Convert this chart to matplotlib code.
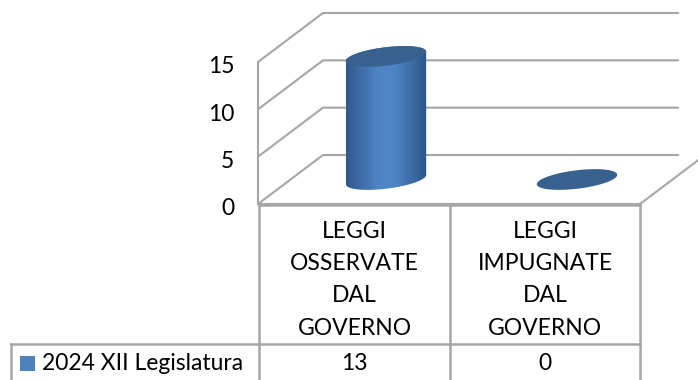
import numpy as np
import matplotlib
matplotlib.use('Agg')
import matplotlib.pyplot as plt
from matplotlib.colors import LinearSegmentedColormap
from matplotlib.path import Path
from matplotlib.patches import PathPatch, Polygon, Rectangle
from matplotlib.transforms import ScaledTranslation

categories = ['LEGGI\nOSSERVATE\nDAL\nGOVERNO', 'LEGGI\nIMPUGNATE\nDAL\nGOVERNO']
series_name = '2024 XII Legislatura'
values = [13, 0]
y_ticks = [0, 5, 10, 15]

W, H = 698, 380
GRID = '#a6a6a6'
CAP = '#38618f'
plt.rcParams['font.family'] = ['Lato', 'DejaVu Sans']
plt.rcParams['font.size'] = 16.5

fig = plt.figure(figsize=(W / 100, H / 100), dpi=100)

# plot front plane, everything in depth is sheared off from it
ax = fig.add_axes([258 / W, (H - 204) / H, 382 / W, 142 / H])
ax.set_xlim(0, len(categories))
ax.set_ylim(0, 15)
px_x = 382 / len(categories)
px_y = 142 / 15
depth_x = 65 / px_x
depth_y = 49 / px_y

for s in ax.spines.values():
    s.set_visible(False)
ax.patch.set_visible(False)
ax.set_xticks([])
ax.set_yticks(y_ticks)
ax.tick_params(axis='y', length=0, pad=17)
shift = ScaledTranslation(0, -2 / 72, fig.dpi_scale_trans)
for lab in ax.get_yticklabels():
    lab.set_transform(lab.get_transform() + shift)

grid_kw = dict(color=GRID, lw=1.5, clip_on=False, zorder=1, solid_capstyle='round')
ax.plot([0, 0], [0, 15], **grid_kw)
for t in y_ticks:
    ax.plot([0, depth_x, 2.2], [t, t + depth_y, t + depth_y], **grid_kw)
ax.plot([0, 2], [0, 0], **grid_kw)
ax.plot([2, 2 + depth_x], [0, depth_y], **grid_kw)


def ellipse(cx, cy, a=40.5, b=9.2, tilt=7, start=0, stop=360):
    t = np.radians(np.linspace(start, stop, 80))
    th = np.radians(tilt)
    ex = a * np.cos(t) * np.cos(th) - b * np.sin(t) * np.sin(th)
    ey = a * np.cos(t) * np.sin(th) + b * np.sin(t) * np.cos(th)
    return np.column_stack([cx + ex / px_x, cy + ey / px_y])


cmap = LinearSegmentedColormap.from_list('cyl', ['#2f5a8e', '#3f6ea8', '#4f85c6', '#4f85c6', '#3f6ea8', '#2c5688'])
for i, v in enumerate(values):
    cx = i + 0.5 + depth_x / 2
    cy = depth_y / 2
    if v > 0:
        low = ellipse(cx, cy, start=180, stop=360)
        high = ellipse(cx, cy + v, start=0, stop=180)
        body = np.vstack([low, high, low[:1]])
        path = Path(body)
        img = ax.imshow(np.linspace(0, 1, 200).reshape(1, -1), cmap=cmap, aspect='auto', zorder=2,
                        extent=[body[:, 0].min(), body[:, 0].max(), body[:, 1].min(), body[:, 1].max()])
        img.set_clip_box(fig.bbox)
        img.set_clip_path(PathPatch(path, transform=ax.transData))
    ax.add_patch(Polygon(ellipse(cx, cy + v), closed=True, fc=CAP, ec='none', zorder=3, clip_on=False))
ax.set_xlim(0, len(categories))
ax.set_ylim(0, 15)

# data table under the plot, in figure pixels
tb = fig.add_axes([0, 0, 1, 1])
tb.set_xlim(0, W)
tb.set_ylim(H, 0)
tb.axis('off')
tb.patch.set_visible(False)
line_kw = dict(color=GRID, lw=1.8, clip_on=False)
tb.plot([259, 640], [205, 205], **line_kw)
for x in [259, 449.5, 640]:
    tb.plot([x, x], [205, 380], **line_kw)
tb.plot([11, 640], [344, 344], **line_kw)
tb.plot([11, 11], [344, 380], **line_kw)
tb.add_patch(Rectangle((20, 356), 15, 15, fc='#4f81bd', ec='none'))
tb.text(42, 364, series_name, va='center', ha='left')
for i, (c, v) in enumerate(zip(categories, values)):
    xc = 354.5 + i * 190.5
    for j, part in enumerate(c.split('\n')):
        tb.text(xc, 231 + j * 32.5, part, ha='center', va='center')
    tb.text(xc, 364, str(v), ha='center', va='center')

fig.savefig('out.png', dpi=100)
